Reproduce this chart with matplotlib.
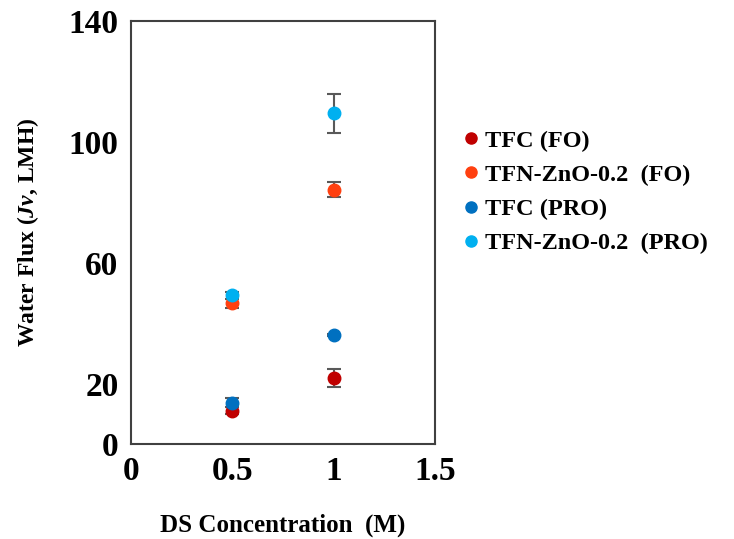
import numpy as np
import matplotlib.pyplot as plt

plt.rcParams['font.family'] = ['Liberation Serif', 'DejaVu Serif']
plt.rcParams['font.weight'] = 'bold'
plt.rcParams['mathtext.fontset'] = 'custom'
plt.rcParams['mathtext.it'] = 'Liberation Serif:italic:bold'
plt.rcParams['mathtext.rm'] = 'Liberation Serif:bold'

# concentracao do DS (M)
conc = [0.5, 1.0]

series = ['TFC (FO)', 'TFN-ZnO-0.2  (FO)', 'TFC (PRO)', 'TFN-ZnO-0.2  (PRO)']
cores = ['#C00000', '#FF4010', '#0070C0', '#00B0F0']

fluxo_tfc_fo = [11.0, 21.8]
fluxo_tfn_fo = [46.6, 84.1]
fluxo_tfc_pro = [13.7, 36.1]
fluxo_tfn_pro = [49.2, 109.5]

erro_tfc_fo = [1.2, 3.0]
erro_tfn_fo = [1.5, 2.5]
erro_tfc_pro = [1.5, 0.3]
erro_tfn_pro = [1.2, 6.5]

fluxos = [fluxo_tfc_fo, fluxo_tfn_fo, fluxo_tfc_pro, fluxo_tfn_pro]
erros = [erro_tfc_fo, erro_tfn_fo, erro_tfc_pro, erro_tfn_pro]

fig = plt.figure(figsize=(7.34, 5.39), dpi=100)
ax = fig.add_axes([0.1785, 0.1763, 0.4141, 0.7847])

for nome, cor, y, e in zip(series, cores, fluxos, erros):
    ax.errorbar(conc, y, yerr=e, fmt='o', color=cor, mec=cor, ecolor='#595959',
                elinewidth=1.5, capsize=5, capthick=1.5, markersize=9,
                label=nome)

ax.set_xlim(0, 1.5)
ax.set_ylim(0, 140)
ax.set_xticks([0, 0.5, 1, 1.5])
ax.set_xticklabels(['0', '0.5', '1', '1.5'])
ax.set_yticks([0, 20, 60, 100, 140])
ax.tick_params(length=0, labelsize=24, pad=9)
for s in ax.spines.values():
    s.set_linewidth(1.5)
    s.set_color('#404040')

ax.set_ylabel(r'Water Flux ($Jv$, LMH)', fontsize=17, fontweight='bold', labelpad=20)
ax.set_xlabel('DS Concentration  (M)', fontsize=18, fontweight='bold', labelpad=19)

# legenda so com marcadores
h, l = ax.get_legend_handles_labels()
h = [plt.Line2D([], [], marker='o', ls='none', color=c, markersize=8) for c in cores]
fig.legend(h, l, loc='upper left', bbox_to_anchor=(0.595, 0.80), frameon=False,
           fontsize=17.5, handletextpad=0.1, labelspacing=0.5, handlelength=1.0)

fig.savefig('out.png', dpi=100)
